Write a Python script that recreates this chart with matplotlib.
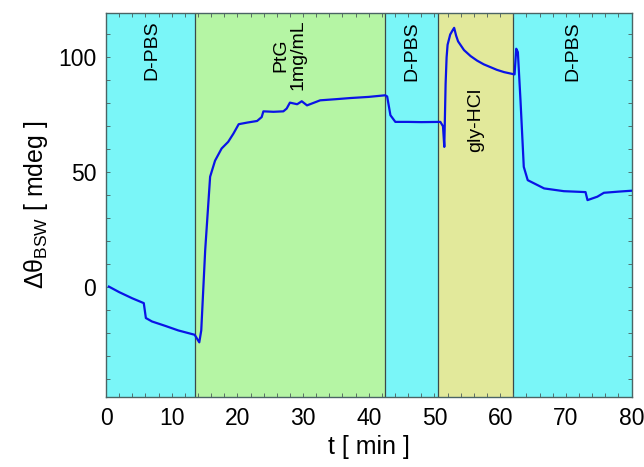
import matplotlib
matplotlib.use("Agg")
import matplotlib.pyplot as plt
from matplotlib.ticker import MultipleLocator

plt.rcParams['font.family'] = ['Liberation Sans', 'DejaVu Sans']
plt.rcParams['mathtext.fontset'] = 'custom'
plt.rcParams['mathtext.rm'] = 'Liberation Sans'
plt.rcParams['mathtext.it'] = 'Liberation Sans'

# Phase regions (start, end, label, colour key)
region_starts = [0, 13.5, 42.5, 50.5, 62.0]
region_ends = [13.5, 42.5, 50.5, 62.0, 80]
region_kinds = ['buffer', 'protein', 'buffer', 'acid', 'buffer']
region_labels = ['D-PBS', 'PtG\n1mg/mL', 'D-PBS', 'gly-HCl', 'D-PBS']
label_t = [7.0, 27.9, 46.6, 56.3, 71.0]
label_v = [103, 101, 102.6, 72.6, 102.6]

# Sensorgram
t = [0.44, 2.0, 4.0, 5.75, 6.07, 7.0, 9.0, 11.0, 13.5, 14.2, 14.5, 15.1, 15.85,
     16.6, 17.6, 18.6, 19.4, 20.2, 21.5, 23.0, 23.7, 23.96, 25.5, 27.0, 27.5,
     28.0, 29.1, 29.8, 30.6, 32.6, 35.0, 37.2, 40.0, 42.5, 42.8, 43.3, 44.05,
     46.0, 48.0, 50.9, 51.3, 51.5, 51.7, 51.85, 52.0, 52.4, 52.8, 53.0, 53.3,
     53.6, 54.5, 55.5, 56.5, 57.5, 58.5, 59.5, 60.6, 62.2, 62.45, 62.7, 63.1,
     63.6, 64.2, 66.7, 69.7, 73.0, 73.3, 74.8, 75.8, 78.0, 80.0]
v = [0.1, -2.3, -5.0, -7.1, -13.6, -15.1, -17.0, -19.0, -20.9, -24.2, -19.0, 16.0, 48.0,
     55.0, 60.3, 63.2, 66.8, 70.9, 71.6, 72.3, 74.0, 76.5, 76.3, 76.5, 77.7,
     80.3, 79.6, 80.9, 79.1, 81.3, 81.8, 82.3, 82.8, 83.5, 83.0, 74.8, 71.9,
     71.9, 71.8, 71.9, 70.0, 61.0, 88.5, 100.0, 105.5, 110.0, 112.0, 112.9, 109.5,
     107.0, 103.2, 100.6, 98.6, 97.0, 95.8, 94.6, 93.6, 92.6, 103.8, 102.3, 81.3,
     52.3, 46.5, 42.9, 41.7, 41.3, 37.8, 39.3, 41.0, 41.5, 41.9]

x_ticks = [0, 10, 20, 30, 40, 50, 60, 70, 80]
y_ticks = [0, 50, 100]

colors = {'buffer': '#7af6f8', 'protein': '#b5f5a4', 'acid': '#e2e99b'}

fig = plt.figure(figsize=(6.44, 4.67), dpi=100)
ax = fig.add_axes([0.1646, 0.150, 0.816, 0.8228])

for s, e, k in zip(region_starts, region_ends, region_kinds):
    ax.axvspan(s, e, color=colors[k], lw=0, zorder=0)
for b in region_starts[1:]:
    ax.axvline(b, color='#3a4a4a', lw=0.9, zorder=1)

for lt, lv, lab in zip(label_t, label_v, region_labels):
    ax.text(lt, lv, lab, rotation=90, ha='center', va='center', fontsize=14,
            multialignment='center', linespacing=1.05)

ax.plot(t, v, color='#0a14e6', lw=1.6, zorder=3)

ax.set_xlim(0, 80)
ax.set_ylim(-48, 119.5)
ax.set_xticks(x_ticks)
ax.set_yticks(y_ticks)
ax.xaxis.set_minor_locator(MultipleLocator(2))
ax.yaxis.set_minor_locator(MultipleLocator(10))
ax.tick_params(which='both', direction='in', top=True, right=True,
               length=3, width=0.6, color='#4a5a5a', labelsize=16.5, pad=7)
for sp in ax.spines.values():
    sp.set_color('#4a6464')
    sp.set_linewidth(1.0)

ax.set_xlabel('t [ min ]', fontsize=18, labelpad=4)
ax.set_ylabel(r'$\Delta\theta_{\mathrm{BSW}}$ [ mdeg ]', fontsize=18, labelpad=6)

fig.savefig('out.png', dpi=100)
